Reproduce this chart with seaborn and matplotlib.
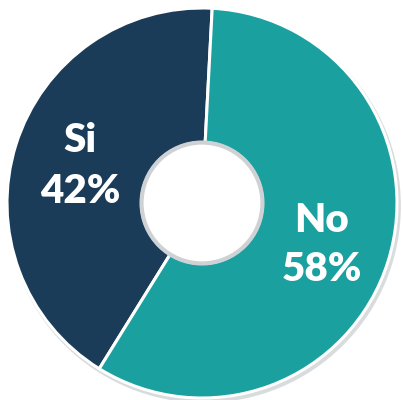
import matplotlib
matplotlib.use("Agg")
import matplotlib.pyplot as plt
import seaborn as sns
from matplotlib.patches import Circle

categories = ["Si", "No"]
values = [42, 58]
labels = ["Si\n42%", "No\n58%"]
colors = ["#1b3c58", "#1ba0a0"]

sns.set_theme(style="white")
plt.rcParams['font.family'] = ['Lato', 'DejaVu Sans']

fig = plt.figure(figsize=(4.03, 4.00), dpi=100)
ax = fig.add_axes([0, 0, 1, 1])
ax.set_axis_off()

# shadow rim
ax.add_patch(Circle((0.01, -0.015), 1.01, color="#d9dcdf", zorder=1, lw=0))

wedges, _ = ax.pie(values, colors=sns.color_palette(colors), startangle=87,
                   counterclock=True, radius=1.0,
                   wedgeprops=dict(width=0.69, edgecolor="white", linewidth=2.2))
for w in wedges:
    w.set_zorder(2)

# inner hole
ax.add_patch(Circle((0, 0), 0.31, facecolor="white", edgecolor="#cfd2d5",
                    linewidth=3, zorder=4))

# labels
ax.text(-0.625, 0.19, labels[0], ha="center", va="center", color="white",
        fontsize=29, weight="heavy", linespacing=1.45, zorder=5)
ax.text(0.615, -0.215, labels[1], ha="center", va="center", color="white",
        fontsize=29, weight="heavy", linespacing=1.4, zorder=5)

ax.set_xlim(-202 / 195, (403 - 202) / 195)
ax.set_ylim(-(400 - 203) / 195, 203 / 195)
ax.set_aspect("auto")

fig.savefig("out.png", dpi=100, facecolor="white")
